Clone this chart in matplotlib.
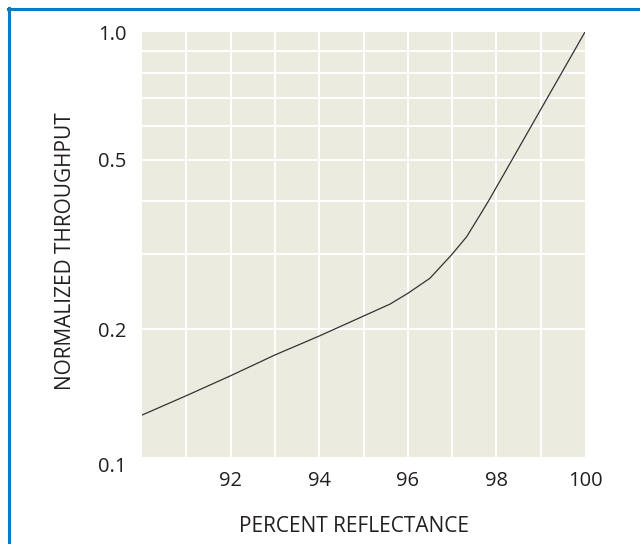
import matplotlib
matplotlib.use('Agg')
import matplotlib.pyplot as plt
import matplotlib.transforms as mtransforms
from matplotlib.lines import Line2D
from matplotlib.ticker import FixedLocator, NullFormatter

# throughput vs. mirror reflectance
reflectance = [90, 91, 92, 93, 94, 95, 95.6, 96, 96.5, 97, 97.33, 97.63, 97.82, 98.08, 99, 100]
throughput = [0.1255, 0.1394, 0.1553, 0.1738, 0.1926, 0.2146, 0.229, 0.2427, 0.2634,
              0.300, 0.330, 0.371, 0.400, 0.446, 0.657, 1.0]

x_ticks = [92, 94, 96, 98, 100]
x_grid = [91, 92, 93, 94, 95, 96, 97, 98, 99]
y_ticks = [0.1, 0.2, 0.5, 1.0]
y_tick_labels = ['0.1', '0.2', '0.5', '1.0']
y_grid = [0.2, 0.3, 0.4, 0.5, 0.6, 0.7, 0.8, 0.9]

plt.rcParams['font.family'] = ['Open Sans', 'DejaVu Sans']
text_color = '#231f20'

fig = plt.figure(figsize=(6.4, 5.44), dpi=100)
ax = fig.add_axes([142 / 640, 1 - 457 / 544, 443 / 640, 425 / 544])
ax.set_facecolor('#ecebdf')

ax.plot(reflectance, throughput, color='#333333', lw=0.9, zorder=3)

ax.set_yscale('log')
ax.set_xlim(90, 100)
ax.set_ylim(0.1, 1.0)

for gx in x_grid:
    ax.axvline(gx, color='white', lw=1.4, zorder=1)
for gy in y_grid:
    ax.axhline(gy, color='white', lw=1.4, zorder=1)

ax.set_xticks(x_ticks)
ax.set_xticklabels([str(t) for t in x_ticks])
ax.yaxis.set_major_locator(FixedLocator(y_ticks))
ax.set_yticklabels(y_tick_labels)
ax.yaxis.set_minor_formatter(NullFormatter())
ax.tick_params(axis='both', which='both', length=0, labelsize=14.5, colors=text_color)
ax.tick_params(axis='x', pad=10)
ax.tick_params(axis='y', pad=11)
for s in ax.spines.values():
    s.set_visible(False)

# bottom label sits a little below its gridline
low = ax.get_yticklabels()[0]
low.set_transform(low.get_transform() +
                  mtransforms.ScaledTranslation(0, -8 / 100, fig.dpi_scale_trans))

fig.text(354 / 640, 1 - 526 / 544, 'PERCENT REFLECTANCE', ha='center', va='center',
         fontsize=15, color=text_color)
fig.text(66 / 640, 1 - 251 / 544, 'NORMALIZED THROUGHPUT', ha='center', va='center',
         rotation=90, fontsize=15, color=text_color)

# blue frame along the top and left edges
frame = '#0a7cc4'
fig.add_artist(Line2D([8 / 640, 1], [1 - 8.5 / 544, 1 - 8.5 / 544], color=frame, lw=2.2,
                      transform=fig.transFigure))
fig.add_artist(Line2D([9 / 640, 9 / 640], [0, 1 - 7.5 / 544], color=frame, lw=2.2,
                      transform=fig.transFigure))

fig.savefig('out.png', dpi=100)
